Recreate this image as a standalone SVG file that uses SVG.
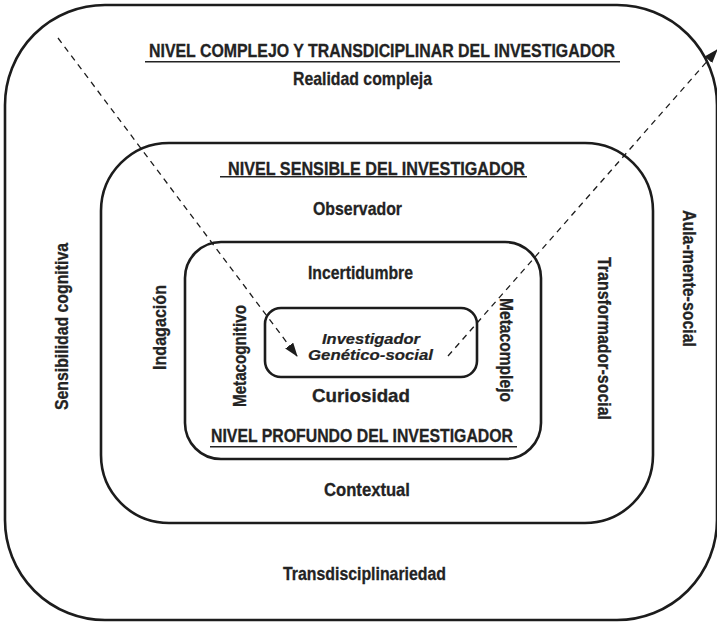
<svg xmlns="http://www.w3.org/2000/svg" width="717" height="624" viewBox="0 0 717 624">
  <style>
    .frame { fill: none; stroke: #1c1c1c; stroke-width: 2.6; }
    .lbl { font-family: "Liberation Sans Narrow", "Liberation Sans", Arial, sans-serif; font-weight: bold; font-size: 19px; fill: #232323; stroke: #232323; stroke-width: 0.3; }
    .ital { font-family: "Liberation Sans", Arial, sans-serif; font-weight: bold; font-style: italic; font-size: 14px; fill: #232323; stroke: #232323; stroke-width: 0.2; }
    .uline { stroke: #232323; stroke-width: 1.6; }
    .dash { fill: none; stroke: #1c1c1c; stroke-width: 1.3; stroke-dasharray: 6 5; }
  </style>
  <defs>
    <marker id="arrow" markerWidth="14" markerHeight="10" refX="13" refY="5" orient="auto" markerUnits="userSpaceOnUse">
      <path d="M0,0 L14,5 L0,10 Z" fill="#1c1c1c"/>
    </marker>
  </defs>
  <rect width="717" height="624" fill="#ffffff"/>

  <!-- outer level: complex and transdisciplinary -->
  <g id="nivel-complejo">
    <rect class="frame" x="5" y="5" width="712" height="615" rx="100" ry="100"/>
    <text class="lbl" x="149" y="57" textLength="466" lengthAdjust="spacingAndGlyphs">NIVEL COMPLEJO Y TRANSDICIPLINAR DEL INVESTIGADOR</text>
    <line class="uline" x1="145" y1="61.8" x2="620" y2="61.8"/>
    <text class="lbl" x="293" y="85" textLength="139" lengthAdjust="spacingAndGlyphs">Realidad compleja</text>
    <text class="lbl" x="283" y="580" textLength="163" lengthAdjust="spacingAndGlyphs">Transdisciplinariedad</text>
    <text class="lbl" transform="translate(68,410) rotate(-90)" textLength="167" lengthAdjust="spacingAndGlyphs">Sensibilidad cognitiva</text>
    <text class="lbl" transform="translate(683,210) rotate(90)" textLength="137" lengthAdjust="spacingAndGlyphs">Aula-mente-social</text>
  </g>

  <!-- middle level: sensitive -->
  <g id="nivel-sensible">
    <rect class="frame" x="101" y="143" width="552" height="380" rx="68" ry="68"/>
    <text class="lbl" x="228" y="175" textLength="297" lengthAdjust="spacingAndGlyphs">NIVEL SENSIBLE DEL INVESTIGADOR</text>
    <line class="uline" x1="220" y1="176.8" x2="527" y2="176.8"/>
    <text class="lbl" x="313" y="215" textLength="89" lengthAdjust="spacingAndGlyphs">Observador</text>
    <text class="lbl" x="324" y="496" textLength="86" lengthAdjust="spacingAndGlyphs">Contextual</text>
    <text class="lbl" transform="translate(166,370) rotate(-90)" textLength="85" lengthAdjust="spacingAndGlyphs">Indagación</text>
    <text class="lbl" transform="translate(598,257) rotate(90)" textLength="163" lengthAdjust="spacingAndGlyphs">Transformador-social</text>
  </g>

  <!-- inner level: deep -->
  <g id="nivel-profundo">
    <rect class="frame" x="185" y="242" width="356" height="217" rx="36" ry="36"/>
    <text class="lbl" x="308" y="278.5" textLength="105" lengthAdjust="spacingAndGlyphs">Incertidumbre</text>
    <text class="lbl" x="312" y="401.5" textLength="98" lengthAdjust="spacingAndGlyphs">Curiosidad</text>
    <text class="lbl" x="211" y="442" textLength="302" lengthAdjust="spacingAndGlyphs">NIVEL PROFUNDO DEL INVESTIGADOR</text>
    <line class="uline" x1="210" y1="446.8" x2="517" y2="446.8"/>
    <text class="lbl" transform="translate(246,407) rotate(-90)" textLength="102" lengthAdjust="spacingAndGlyphs">Metacognitivo</text>
    <text class="lbl" transform="translate(500,298) rotate(90)" textLength="104" lengthAdjust="spacingAndGlyphs">Metacomplejo</text>
  </g>

  <!-- core: the researcher -->
  <g id="investigador">
    <rect class="frame" x="265" y="308" width="212" height="69" rx="16" ry="16"/>
    <text class="ital" x="322" y="344" textLength="98" lengthAdjust="spacingAndGlyphs">Investigador</text>
    <text class="ital" x="308" y="359.5" textLength="125" lengthAdjust="spacingAndGlyphs">Genético-social</text>
  </g>

  <!-- dashed flow connectors -->
  <g id="conectores">
    <line class="dash" x1="58" y1="38" x2="297" y2="356" marker-end="url(#arrow)"/>
    <line class="dash" x1="448" y1="356" x2="717" y2="50" marker-end="url(#arrow)"/>
  </g>
</svg>
